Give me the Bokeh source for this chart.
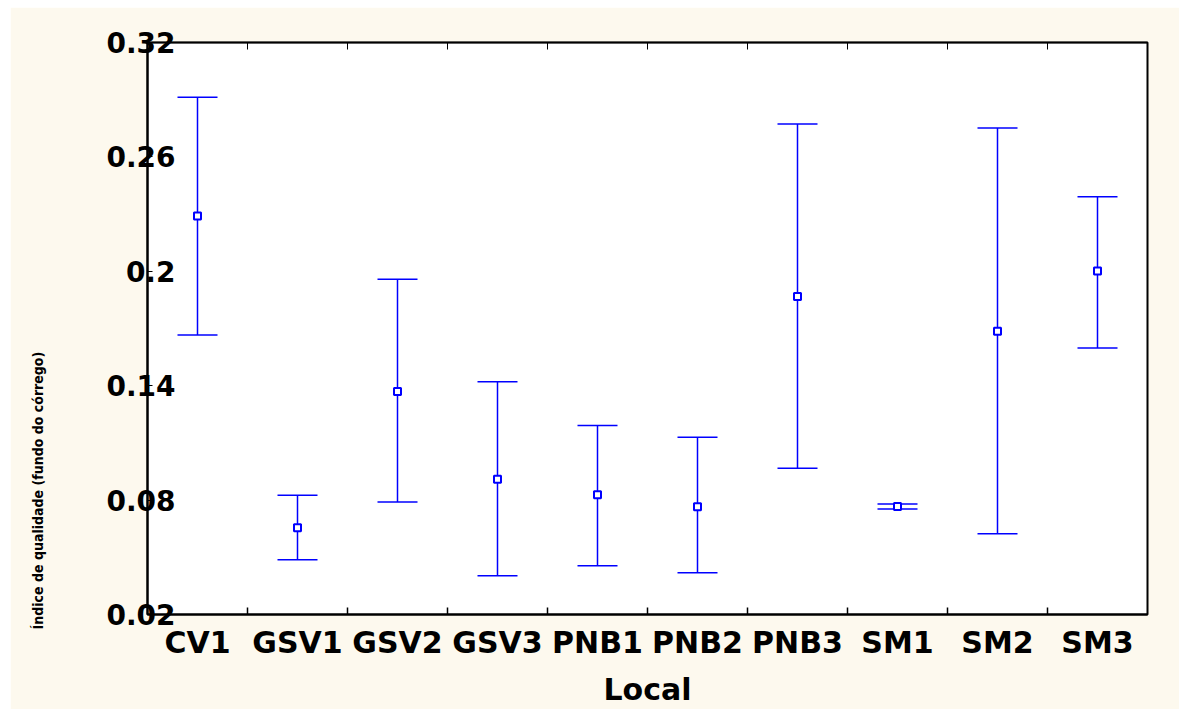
import math
from bokeh.plotting import figure
from bokeh.models import ColumnDataSource, Whisker, FixedTicker, LinearAxis, TeeHead
from bokeh.embed import file_html
from bokeh.resources import INLINE

categories = ["CV1", "GSV1", "GSV2", "GSV3", "PNB1", "PNB2", "PNB3", "SM1", "SM2", "SM3"]
means = [0.2290, 0.0655, 0.1370, 0.0910, 0.0828, 0.0765, 0.1868, 0.0767, 0.1685, 0.2002]
upper = [0.2913, 0.0826, 0.1958, 0.1421, 0.1191, 0.1129, 0.2772, 0.0779, 0.2751, 0.2391]
lower = [0.1666, 0.0487, 0.0790, 0.0403, 0.0456, 0.0419, 0.0967, 0.0753, 0.0623, 0.1598]
y_ticks = [0.02, 0.08, 0.14, 0.2, 0.26, 0.32]
y_tick_labels = ["0.02", "0.08", "0.14", "0.2", "0.26", "0.32"]
x_title = "Local"
y_title = "Índice de qualidade (fundo do córrego)"
y_title_at = 0.085

xs = list(range(1, len(categories) + 1))
src = ColumnDataSource(dict(x=xs, mean=means, upper=upper, lower=lower))

cream = "#fdf9ee"
p = figure(width=1169, height=702, output_backend="svg", toolbar_location=None,
           x_range=(0.5, len(categories) + 0.5), y_range=(0.02, 0.32),
           x_axis_location=None, y_axis_location=None,
           min_border_left=137, min_border_right=32, min_border_top=35, min_border_bottom=88)
p.margin = (7, 4, 0, 10)
p.background_fill_color = "white"
p.border_fill_color = cream
p.outline_line_color = "black"
p.outline_line_width = 2
p.xgrid.visible = False
p.ygrid.visible = False

font = "DejaVu Sans"
bounds = [i + 0.5 for i in xs[:-1]]

# bottom axis: category labels at centers, minor ticks at boundaries
xb = LinearAxis(ticker=FixedTicker(ticks=xs, minor_ticks=bounds))
xb.major_label_overrides = {i: c for i, c in zip(xs, categories)}
xb.major_tick_in = 0
xb.major_tick_out = 0
xb.minor_tick_in = 7
xb.minor_tick_out = 0
xb.minor_tick_line_color = "black"
xb.minor_tick_line_width = 1.5
xb.axis_line_color = "black"
xb.axis_line_width = 2
xb.major_label_text_font = font
xb.major_label_text_font_style = "bold"
xb.major_label_text_font_size = "30px"
xb.major_label_text_color = "black"
xb.major_label_standoff = 10
xb.axis_label = x_title
xb.axis_label_text_font = font
xb.axis_label_text_font_style = "bold"
xb.axis_label_text_font_size = "30px"
xb.axis_label_text_color = "black"
xb.axis_label_standoff = 9
p.add_layout(xb, "below")

# top axis: boundary ticks only
xtop = LinearAxis(ticker=FixedTicker(ticks=[], minor_ticks=bounds))
xtop.major_tick_in = 0
xtop.major_tick_out = 0
xtop.minor_tick_in = 7
xtop.minor_tick_out = 0
xtop.minor_tick_line_color = "black"
xtop.axis_line_color = "black"
xtop.axis_line_width = 1.5
p.add_layout(xtop, "above")

# left axis
yl = LinearAxis(ticker=FixedTicker(ticks=y_ticks, minor_ticks=[]))
yl.major_label_overrides = {t: s for t, s in zip(y_ticks, y_tick_labels)}
yl.major_tick_in = 5
yl.major_tick_out = 0
yl.major_tick_line_color = "black"
yl.axis_line_color = "black"
yl.axis_line_width = 2
yl.major_label_text_font = font
yl.major_label_text_font_style = "bold"
yl.major_label_text_font_size = "28px"
yl.major_label_text_color = "black"
yl.major_label_standoff = -28
p.add_layout(yl, "left")

# y title, placed low on the left side like the reference
yt = LinearAxis(ticker=FixedTicker(ticks=[y_title_at], minor_ticks=[]))
yt.major_label_overrides = {y_title_at: y_title}
yt.major_label_orientation = "vertical"
yt.major_tick_in = 0
yt.major_tick_out = 0
yt.axis_line_color = None
yt.major_label_text_font = "DejaVu Sans Condensed"
yt.major_label_text_font_style = "bold"
yt.major_label_text_font_size = "14px"
yt.major_label_text_color = "black"
yt.major_label_standoff = 57
p.add_layout(yt, "left")

# error bars
wh = Whisker(source=src, base="x", upper="upper", lower="lower",
             line_color="#0000ff", line_width=1.5,
             upper_head=TeeHead(size=40, line_color="#0000ff", line_width=1.5),
             lower_head=TeeHead(size=40, line_color="#0000ff", line_width=1.5))
p.add_layout(wh)

p.scatter("x", "mean", source=src, marker="square", size=7,
          fill_color="white", line_color="#0000ff", line_width=2)

open("out.html", "w").write(file_html(p, INLINE))
